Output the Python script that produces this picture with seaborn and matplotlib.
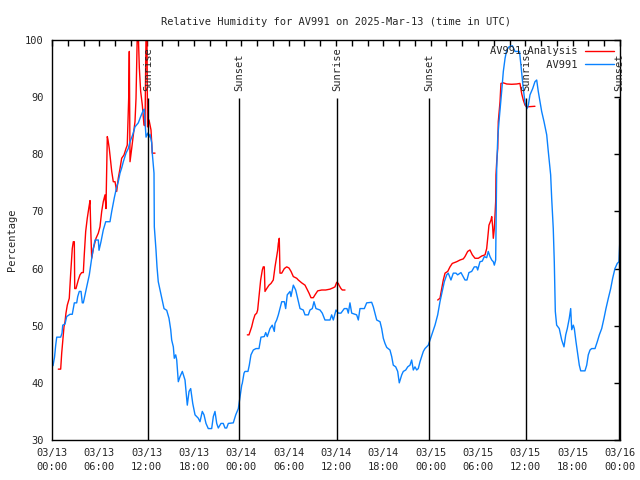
import numpy as np
import pandas as pd
import seaborn as sns
import matplotlib
matplotlib.use("Agg")
import matplotlib.pyplot as plt
import matplotlib.dates as mdates
from matplotlib.lines import Line2D

START = pd.Timestamp("2025-03-13 00:00")

# AV991 observations: hours after 03/13 00:00 UTC, relative humidity (%)
obs_hours = [0.13, 0.32, 0.47, 0.6, 1.1, 1.27, 1.36, 1.65, 1.86, 2.28, 2.57, 2.7, 2.83, 3.13, 3.26,
             3.46, 3.68, 3.84, 3.97, 4.18, 4.4, 4.73, 5.03, 5.24, 5.45, 5.87, 5.96, 6.21, 6.5, 6.81,
             7.35, 7.57, 7.9, 8.2, 8.4, 8.62, 8.83, 9.04, 9.38, 9.67, 9.89, 10.23, 10.52, 10.94, 11.24,
             11.57, 11.7, 11.79, 11.92, 12.13, 12.3, 12.42, 12.64, 12.71, 12.93, 12.97, 13.18, 13.31,
             13.47, 13.78, 13.98, 14.2, 14.54, 14.83, 15.05, 15.17, 15.38, 15.5, 15.68, 15.81, 16.01,
             16.23, 16.52, 16.86, 17.15, 17.37, 17.58, 17.84, 18.13, 18.55, 18.76, 19.05, 19.27, 19.52,
             19.81, 20.24, 20.45, 20.66, 20.88, 21.08, 21.42, 21.71, 21.93, 22.14, 22.35, 22.98, 23.29,
             23.62, 23.83, 24.05, 24.12, 24.34, 24.46, 24.84, 25.01, 25.22, 25.52, 25.86, 26.24, 26.49,
             26.91, 27.09, 27.29, 27.63, 27.92, 28.18, 28.27, 28.48, 28.69, 28.9, 29.12, 29.45, 29.62,
             29.82, 30.17, 30.29, 30.59, 30.89, 31.14, 31.44, 31.85, 32.07, 32.49, 32.7, 33.0, 33.21,
             33.46, 33.97, 34.26, 34.6, 35.24, 35.45, 35.66, 36.0, 36.29, 36.63, 37.05, 37.39, 37.56,
             37.77, 37.99, 38.62, 38.83, 39.04, 39.59, 39.89, 40.52, 40.73, 40.94, 41.16, 41.58, 41.79,
             42.0, 42.21, 42.43, 42.84, 43.06, 43.26, 43.57, 43.82, 44.02, 44.33, 44.53, 44.84, 45.09,
             45.38, 45.59, 45.8, 46.01, 46.23, 46.43, 46.65, 46.86, 47.07, 47.28, 47.7, 48.13, 48.55,
             48.89, 49.18, 49.47, 49.73, 50.03, 50.23, 50.57, 50.87, 51.21, 51.42, 51.84, 52.0, 52.35,
             52.6, 52.85, 53.2, 53.53, 53.83, 53.96, 54.25, 54.54, 54.8, 55.1, 55.3, 55.52, 55.74,
             55.94, 56.07, 56.24, 56.37, 56.5, 56.66, 57.0, 57.21, 57.43, 57.64, 57.93, 58.35, 58.69,
             59.26, 59.45, 59.7, 59.96, 60.21, 60.38, 60.59, 60.93, 61.22, 61.44, 61.64, 61.86, 62.07,
             62.37, 62.71, 62.91, 63.21, 63.34, 63.54, 63.67, 63.8, 63.97, 64.3, 64.61, 64.9, 65.12,
             65.32, 65.57, 65.75, 65.88, 66.08, 66.21, 66.42, 66.59, 66.84, 67.02, 67.56, 67.78, 67.98,
             68.2, 68.41, 68.83, 69.12, 69.38, 69.68, 69.97, 70.22, 70.52, 70.82, 71.07, 71.36, 71.65,
             71.87, 72.0]
obs_rh = [43.0, 44.5, 46.6, 48.0, 48.0, 48.7, 50.1, 50.3, 51.6, 52.0, 52.0, 53.0, 54.0, 54.0, 55.1,
          56.0, 56.0, 54.0, 54.0, 55.4, 56.8, 58.9, 61.8, 63.5, 65.0, 65.0, 63.2, 64.7, 66.75, 68.2,
          68.2, 70.0, 72.4, 74.3, 75.2, 76.7, 77.6, 78.7, 80.2, 81.0, 82.2, 83.4, 84.8, 85.5, 86.6,
          87.7, 87.9, 85.7, 83.0, 83.7, 83.0, 83.5, 82.0, 80.2, 76.7, 67.3, 63.3, 60.3,
          57.7, 55.7, 54.5, 53.0, 52.7, 51.3, 49.3, 47.5, 46.3, 44.3, 44.9, 44.0, 40.2,
          41.1, 42.0, 40.5, 36.1, 38.5, 39.0, 36.4, 34.4, 33.8, 33.2, 35.0, 34.4, 32.9,
          32.0, 32.0, 34.1, 35.0, 32.9, 32.1, 32.9, 32.9, 32.1, 32.1, 32.9, 33.0, 34.4,
          35.5, 37.5, 39.6, 39.9, 41.7, 42.0, 42.0, 43.1, 44.9, 45.75, 46.0, 46.0, 48.0,
          48.1, 48.8, 48.1, 49.5, 50.1, 49.0, 50.4, 51.0, 51.9, 53.0, 54.2, 54.2, 53.0,
          55.4, 56.0, 55.1, 57.1, 56.25, 54.8, 53.0, 52.75, 51.9, 51.9, 52.75, 53.0, 54.2,
          53.0, 52.75, 52.2, 51.0, 51.0, 51.9, 51.0, 52.75, 52.2, 52.2, 53.0, 53.0, 52.2,
          54.0, 52.2, 51.9, 51.0, 53.0, 53.0, 54.0, 54.1, 53.3, 52.2, 51.0, 50.7, 49.5,
          47.8, 46.9, 46.2, 45.75, 44.6, 43.1, 42.8, 42.0, 40.0, 41.4, 42.0, 42.25, 42.8,
          43.1, 44.0, 42.25, 42.8, 42.25, 42.5, 43.7, 44.6, 45.5, 46.0, 46.6, 48.4, 50.1,
          51.9, 54.2, 56.0, 57.7, 58.9, 59.2, 58.0, 59.2, 59.2, 58.9, 59.3, 58.9, 58.0,
          58.0, 59.3, 59.5, 60.3, 60.3, 59.75, 61.2, 61.3, 62.1, 61.9, 63.0, 62.1, 61.5,
          61.2, 60.6, 61.5, 77.5, 82.8, 85.7, 91.0, 94.5, 96.8, 98.25, 98.8, 99.0, 98.0,
          98.0, 95.5, 92.0, 89.0, 88.0, 88.6, 90.4, 91.5, 92.7, 93.0, 91.0, 89.2, 87.5,
          85.7, 83.4, 80.5, 76.4, 72.3, 67.0, 61.2, 52.5, 50.1, 49.5, 47.5, 46.3, 48.4,
          49.5, 51.3, 53.0, 49.3, 50.1, 49.5, 47.2, 45.5, 43.1, 42.1, 42.1, 43.1, 44.9,
          45.75, 46.0, 46.0, 47.2, 48.4, 49.5, 51.3, 53.0, 54.8, 56.5, 58.3, 60.0, 60.9,
          61.2, 65.5]

# AV991 Analysis, three separate runs
ana1_hours = [0.80, 1.10, 1.23, 1.52, 1.65, 1.77, 1.94, 2.19, 2.37, 2.57, 2.70, 2.83, 2.88, 3.04,
              3.33, 3.55, 3.76, 3.97, 4.09, 4.27, 4.47, 4.69, 4.82, 4.91, 5.03, 5.24, 5.58, 5.87,
              6.08, 6.30, 6.50, 6.72, 6.84, 7.01, 7.10, 7.26, 7.44, 7.57, 7.77, 7.99, 8.20, 8.40,
              8.62, 8.83, 9.13, 9.38, 9.54, 9.72, 9.80, 9.89, 10.10, 10.31, 10.52, 10.65, 10.81,
              10.94, 11.07, 11.24, 11.45, 11.66, 11.79, 11.92, 12.04, 12.11, 12.30, 12.55, 12.71, 13.06]
ana1_rh = [42.4, 42.4, 45.2, 49.8, 50.7, 52.2, 53.6, 54.8, 59.2, 63.5, 64.7, 64.7, 56.5, 56.5,
           58.0, 58.9, 59.3, 59.3, 62.4, 66.5, 68.8, 70.8, 71.9, 67.0, 61.8, 63.5, 65.3, 66.2,
           67.3, 70.0, 71.7, 72.9, 70.5, 83.1, 82.5, 81.0, 78.7, 77.0, 75.2, 75.2, 73.5, 75.8,
           77.5, 79.3, 79.9, 81.0, 81.6, 89.8, 98.0, 78.7, 81.0, 83.4, 85.7, 89.8, 101.0,
           101.0, 95.1, 91.0, 88.6, 85.1, 85.0, 101.0, 101.0, 84.8, 86.0, 84.25, 80.2, 80.2]

ana2_hours = [24.76, 24.97, 25.31, 25.52, 25.73, 25.95, 26.07, 26.24, 26.45, 26.66, 26.78, 26.91,
              27.00, 27.22, 27.51, 27.76, 28.05, 28.27, 28.48, 28.61, 28.69, 28.81, 28.90, 29.12,
              29.45, 29.75, 30.04, 30.30, 30.59, 31.02, 31.22, 31.65, 32.07, 32.29, 32.58, 32.83,
              33.12, 33.34, 33.68, 34.19, 34.69, 35.24, 35.66, 35.87, 36.09, 36.29, 36.38, 36.63,
              36.80, 37.14]
ana2_rh = [48.4, 48.4, 49.8, 51.0, 51.9, 52.2, 52.75, 55.1, 58.0, 59.75, 60.3, 60.3,
           56.0, 56.5, 57.1, 57.4, 58.0, 60.3, 62.1, 63.25, 64.4, 65.3, 59.2, 59.2,
           60.0, 60.3, 60.1, 59.5, 58.6, 58.3, 58.0, 57.5, 57.1, 56.5, 55.7, 54.9,
           54.9, 55.4, 56.1, 56.25, 56.25, 56.4, 56.65, 56.8, 57.6, 57.4, 57.1, 56.5,
           56.25, 56.25]

ana3_hours = [48.89, 49.18, 49.40, 49.60, 49.82, 50.16, 50.45, 50.74, 51.30, 51.72, 52.14, 52.35,
              52.69, 52.98, 53.28, 53.62, 54.04, 54.47, 54.89, 55.10, 55.23, 55.39, 55.65, 55.74,
              55.86, 55.94, 56.07, 56.24, 56.28, 56.37, 56.50, 56.57, 56.79, 56.91, 57.21, 57.64,
              58.27, 58.90, 59.32, 59.54, 59.74, 59.96, 60.17, 61.22]
ana3_rh = [54.5, 54.8, 56.5, 58.0, 59.2, 59.5, 60.3, 60.9, 61.2, 61.5, 61.7, 62.1,
           63.0, 63.25, 62.4, 61.8, 61.8, 62.2, 62.4, 63.5, 65.3, 67.6, 68.5, 69.1,
           67.3, 65.3, 67.0, 71.7, 76.4, 78.7, 81.0, 85.7, 89.2, 92.4, 92.5, 92.3,
           92.25, 92.3, 92.4, 90.6, 89.5, 88.6, 88.3, 88.4]

sun_hours = [12.17, 23.70, 36.13, 47.79, 60.08, 71.87]
sun_labels = ["Sunrise", "Sunset", "Sunrise", "Sunset", "Sunrise", "Sunset"]

RED = "#ff0000"
BLUE = "#0a82ff"
FONT = "DejaVu Sans Mono"


def to_frame(hours, rh):
    return pd.DataFrame({"time": START + pd.to_timedelta(hours, unit="h"), "rh": rh})


sns.set_style("white")
plt.rcParams["font.family"] = [FONT]
plt.rcParams["font.size"] = 7.5

fig = plt.figure(figsize=(6.4, 4.8), dpi=100)
ax = fig.add_axes([52 / 640, 40 / 480, 568 / 640, 400 / 480])

for h, v in [(ana1_hours, ana1_rh), (ana2_hours, ana2_rh), (ana3_hours, ana3_rh)]:
    sns.lineplot(data=to_frame(h, v), x="time", y="rh", color=RED, lw=1.0,
                 estimator=None, sort=False, ax=ax)
sns.lineplot(data=to_frame(obs_hours, obs_rh), x="time", y="rh", color=BLUE, lw=1.0,
             estimator=None, sort=False, ax=ax)

sun_times = START + pd.to_timedelta(sun_hours, unit="h")
ax.vlines(sun_times, 30, 89.9, color="black", lw=1.0)
for t, lab in zip(sun_times, sun_labels):
    ax.text(t, 91.0, lab, rotation=90, ha="center", va="bottom", fontsize=7.5)

ax.set_xlim(START, START + pd.Timedelta(hours=72))
ax.set_ylim(30, 100)
ax.set_yticks(range(30, 101, 10))
ax.xaxis.set_major_locator(mdates.HourLocator(byhour=[0, 6, 12, 18]))
ax.xaxis.set_minor_locator(mdates.HourLocator(interval=2))
ax.xaxis.set_major_formatter(mdates.DateFormatter("%m/%d\n%H:%M"))
ax.tick_params(axis="both", which="both", direction="in", top=True, right=True,
               length=4, width=1, color="black", labelsize=7.5)
ax.tick_params(axis="x", which="major", pad=6)
ax.tick_params(axis="y", which="major", pad=6)
for s in ax.spines.values():
    s.set_color("black")
    s.set_linewidth(1)

ax.set_xlabel("")
ax.set_ylabel("Percentage", fontsize=7.5, labelpad=6)
ax.set_title("Relative Humidity for AV991 on 2025-Mar-13 (time in UTC)", fontsize=7.5, pad=11)

handles = [Line2D([], [], color=RED, lw=1.0), Line2D([], [], color=BLUE, lw=1.0)]
ax.legend(handles, ["AV991 Analysis", "         AV991"], loc="upper right", frameon=False,
          markerfirst=False, handlelength=2.8, handletextpad=0.7, borderaxespad=0.2,
          labelspacing=0.35, fontsize=7.5)

fig.canvas.draw()
for lbl in ax.get_xticklabels():
    lbl.set_linespacing(1.45)

fig.savefig("out.png", dpi=100)
